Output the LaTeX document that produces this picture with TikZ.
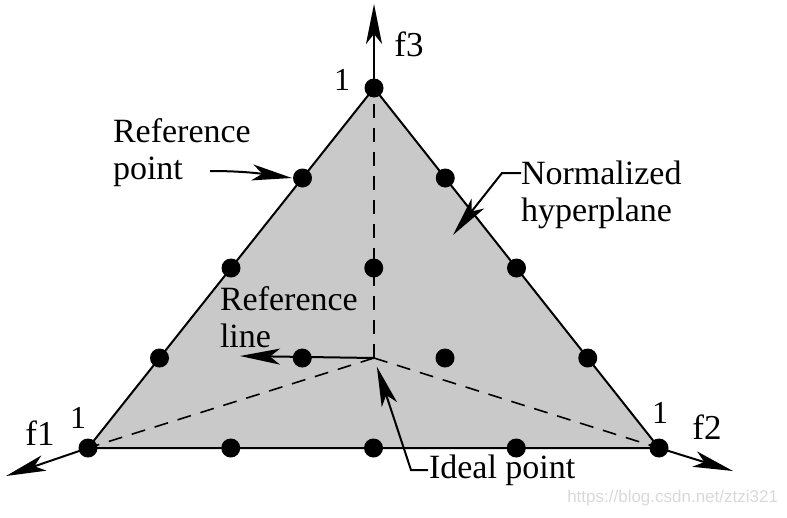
\documentclass[tikz,border=0pt]{standalone}
\usepackage{fontspec}
\setmainfont{Liberation Serif}
\setsansfont{Liberation Sans}
\usetikzlibrary{arrows.meta, positioning}
\tikzset{
  refpt/.style={circle, fill=black, inner sep=0pt, minimum size=19pt},
  arr/.style={-{Stealth[length=40pt, width=16pt, inset=10pt]}},
  dashline/.style={line width=1.6pt, dash pattern=on 14pt off 10pt},
  lbl/.style={inner sep=0pt, align=left, font=\fontsize{34}{37}\selectfont},
  axlbl/.style={inner sep=0pt, font=\fontsize{35}{37}\selectfont},
  onelbl/.style={inner sep=0pt, font=\fontsize{32}{34}\selectfont},
}

\begin{document}
\begin{tikzpicture}[x=1pt, y=-1pt, line width=2pt]
    \useasboundingbox (0,0) rectangle (787,517);
    \coordinate (f3v) at (374,88);
    \coordinate (f1v) at (88,448);
    \coordinate (f2v) at (659,448);
    \coordinate (ideal) at (374,358);
    \fill[black!21] (f1v) -- (f2v) -- (f3v) -- cycle;
    \draw[dashline] (ideal) -- (f3v);
    \draw[dashline] (ideal) -- (f1v);
    \draw[dashline] (ideal) -- (f2v);
    \draw (f1v) -- (f2v) -- (f3v) -- cycle;
    % axes
    \coordinate (f1tip) at (6,476);
    \coordinate (f2tip) at (733,471);
    \coordinate (f3tip) at (374,4);
    \draw[arr] (f1v) -- (f1tip);
    \draw[arr] (f2v) -- (f2tip);
    \draw[arr] (f3v) -- (f3tip);
    \node[axlbl] (f1lbl) at (40,433) {f1};
    \node[axlbl] (f2lbl) at (707,427) {f2};
    \node[axlbl] (f3lbl) at (409,44) {f3};
    \node[onelbl] (one1) at (78,418) {1};
    \node[onelbl] (one2) at (660,413) {1};
    \node[onelbl] (one3) at (342,80) {1};
    % reference points
    \foreach \i in {0,...,4} {
        \pgfmathtruncatemacro\jmax{4-\i}
        \foreach \j in {0,...,\jmax}
            \node[refpt] (p\i\j) at ({88+142.75*\i+71.5*\j},{448-90*\j}) {};
    }
    % labels
    \node[lbl, anchor=west] (rptext) at (112,153) {Reference\\point};
    \coordinate (rpfrom) at (210,171);
    \draw[arr] (rpfrom) to[out=0, in=172] (p03.west);
    \node[lbl, anchor=west] (hptext) at (520,195) {Normalized\\hyperplane};
    \coordinate (hpfrom) at (521,173);
    \coordinate (hptip) at (453,235);
    \draw[arr] (hpfrom) -- ++(-19,0) -- (hptip);
    \node[lbl, anchor=west] (rltext) at (219,317) {Reference\\line};
    \coordinate (rltip) at (240,356);
    \draw[arr] (ideal) -- (rltip);
    \node[lbl, anchor=west] (iptext) at (428,470) {Ideal point};
    \draw[arr, shorten >=9pt] (iptext.west) -- ++(-17,0) -- (ideal);
    \node[anchor=east, inner sep=0pt, text=black!15, font=\fontsize{17}{17}\sffamily] (mark) at (779,498) {https://blog.csdn.net/ztzi321};
\end{tikzpicture}
\end{document}
